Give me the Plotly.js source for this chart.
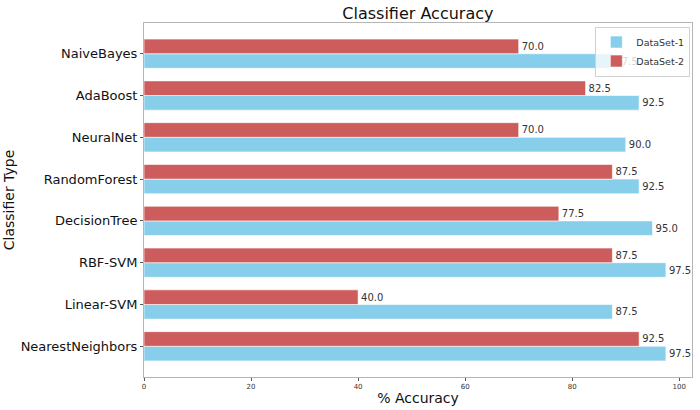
<!DOCTYPE html>
<html>
<head>
<meta charset="utf-8">
<script src="https://cdn.plot.ly/plotly-3.0.1.min.js"></script>
<style>html,body{margin:0;padding:0;background:#fff;}#chart{width:700px;height:410px;}</style>
</head>
<body>
<div id="chart"></div>
<script>
var categories = ["NearestNeighbors", "Linear-SVM", "RBF-SVM", "DecisionTree", "RandomForest", "NeuralNet", "AdaBoost", "NaiveBayes"];
var dataset1 = [97.5, 87.5, 97.5, 95.0, 92.5, 90.0, 92.5, 87.5];
var dataset2 = [92.5, 40.0, 87.5, 77.5, 87.5, 70.0, 82.5, 70.0];
var seriesNames = ["DataSet-1", "DataSet-2"];
var xTickVals = [0, 20, 40, 60, 80, 100];

var barW = 0.35;
var idx = categories.map(function (c, i) { return i; });
var y1 = idx.map(function (i) { return i - barW / 2; });
var y2 = idx.map(function (i) { return i + barW / 2; });

var font = "DejaVu Sans, Liberation Sans, sans-serif";

function barTrace(name, vals, ys, color) {
  return {type: "bar", orientation: "h", name: name, x: vals, y: ys, width: barW,
    marker: {color: color, line: {color: "rgba(255,255,255,0.6)", width: 1}},
    text: vals.map(function (v) { return v.toFixed(1); }),
    textposition: "outside", constraintext: "none", cliponaxis: false,
    outsidetextfont: {family: font, size: 10, color: "#333"},
    hoverinfo: "x"};
}

var traces = [
  barTrace(seriesNames[0], dataset1, y1, "#87CEEB"),
  barTrace(seriesNames[1], dataset2, y2, "#CD5C5C")
];

var layout = {
  width: 700, height: 410,
  margin: {l: 144, r: 8, t: 23, b: 33},
  paper_bgcolor: "#fff", plot_bgcolor: "#fff",
  title: {text: "Classifier Accuracy", font: {family: font, size: 16, color: "#111"}, x: 0.597, xanchor: "center", y: 0.968, yanchor: "middle"},
  barmode: "overlay",
  showlegend: true,
  legend: {x: 0.997, y: 0.99, xanchor: "right", yanchor: "top", bgcolor: "rgba(255,255,255,0.8)",
    bordercolor: "#d0d0d0", borderwidth: 1, font: {family: font, size: 9.5, color: "#333"},
    traceorder: "normal", itemwidth: 30},
  xaxis: {range: [0, 102.375], tickvals: xTickVals, ticks: "outside", ticklen: 3, tickcolor: "#555",
    tickfont: {family: font, size: 7, color: "#333"}, showgrid: false, zeroline: false,
    showline: true, mirror: true, linecolor: "#b5b5b5", linewidth: 1,
    title: {text: "% Accuracy", font: {family: font, size: 14, color: "#111"}, standoff: 2}},
  yaxis: {range: [-0.735, 7.735], tickvals: idx, ticktext: categories, ticks: "outside", ticklen: 3, tickcolor: "#555",
    tickfont: {family: font, size: 13, color: "#111"}, showgrid: false, zeroline: false,
    showline: true, mirror: true, linecolor: "#b5b5b5", linewidth: 1,
    title: {text: "Classifier Type", font: {family: font, size: 14, color: "#111"}, standoff: 2}}
};

Plotly.newPlot("chart", traces, layout, {displayModeBar: false, staticPlot: true});
</script>
</body>
</html>
